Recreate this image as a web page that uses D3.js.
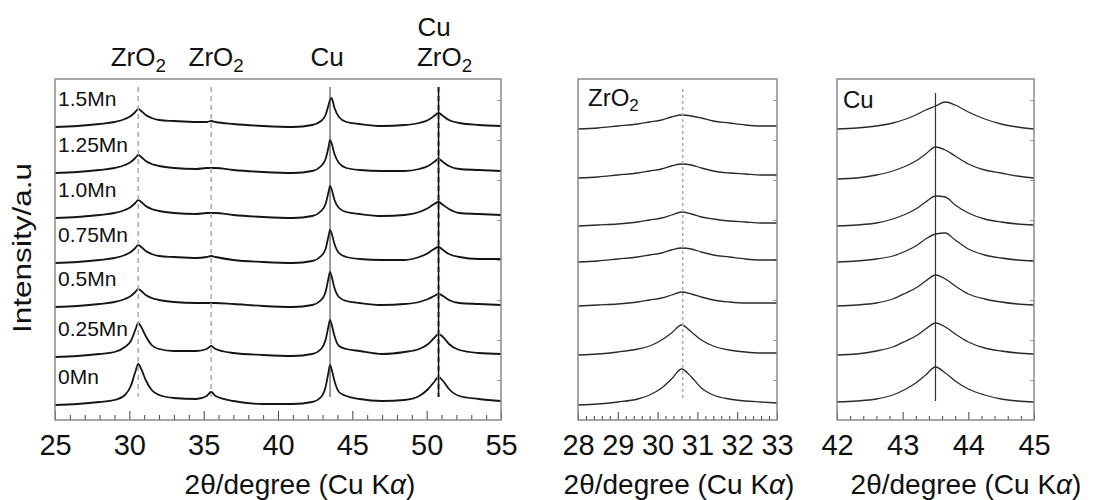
<!DOCTYPE html>
<html><head><meta charset="utf-8">
<script src="https://cdn.jsdelivr.net/npm/d3@7"></script>
<style>
body{margin:0;background:#fff;}
svg{display:block;font-family:Arial,"Liberation Sans",sans-serif;}
</style></head><body>
<svg id="chart" width="1099" height="500"></svg>
<script>
// ---------- DATA ----------
const samples = ["0Mn","0.25Mn","0.5Mn","0.75Mn","1.0Mn","1.25Mn","1.5Mn"];
// vertical stacking offsets (a.u.)
const offsetsMain = [15, 63, 113, 157, 202, 247, 293];
const offsetsZoom = [15, 65, 114, 158, 194, 242, 291];

// main panel 2θ grid (degrees)
const thetaMain = [25, 26.5, 28, 29, 29.7, 30.1, 30.4, 30.6, 30.8, 31.1, 31.5, 32, 33, 34.5, 35.2, 35.5, 35.8, 37, 39, 41,
  42.3, 42.9, 43.2, 43.4, 43.5, 43.6, 43.8, 44.1, 44.6, 45.5, 47, 48.5, 49.5, 50.1, 50.5, 50.8, 51.1, 51.5, 52.2, 53.5, 55];
const main0Mn   = [0,1,3,5,10,19,33,41,36,25,15,10,7,6,9,13,9,4,1,1, 3,8,18,33,40,36,24,13,9,6,4,5,9,16,23,28,24,16,9,6,4];
const main025Mn = [0,1,3,5,10,16,27,34,30,21,12,8,6,6,8,11,8,4,2,1, 3,8,17,31,37,33,21,11,8,6,3,5,8,13,19,23,20,13,7,4,3];
const main05Mn  = [0,1,3,5,8,11,15,18,16,12,9,7,5,4,4,4,4,3,1,0, 2,7,15,29,35,31,19,10,6,4,2,3,5,8,11,13,11,7,4,3,2];
const main075Mn = [0,1,3,5,8,11,15,18,16,12,9,7,6,5,6,7,6,3,1,0, 2,7,14,27,33,30,19,10,6,4,3,3,6,10,14,16,13,9,6,4,4];
const main10Mn  = [0,1,3,5,8,11,15,18,16,12,9,7,5,4,5,5,5,3,1,0, 2,7,14,26,32,29,18,10,6,4,2,3,6,10,14,16,13,9,5,4,3];
const main125Mn = [0,1,3,5,8,11,15,18,16,12,9,7,5,4,5,5,5,3,1,0, 2,7,14,26,33,30,19,10,5,3,2,2,4,7,11,14,11,7,4,3,2];
const main15Mn  = [0,1,3,5,8,11,15,18,16,12,9,7,6,5,5,6,5,3,1,0, 2,6,12,22,27,29,19,10,5,3,1,2,4,7,11,14,11,7,4,2,1];

// ZrO2 zoom panel
const thetaZr = [28, 28.5, 29, 29.5, 29.8, 30.1, 30.35, 30.6, 30.85, 31.1, 31.4, 31.8, 32.2, 32.6, 33];
const zr0Mn   = [0,1,3,6,10,17,26,36,28,17,10,6,4,3,2];
const zr025Mn = [0,1,3,6,9,15,22,30,23,15,9,5,3,2,2];
const zr05Mn  = [0,1,2,4,6,8,11,14,12,9,6,4,3,3,3];
const zr075Mn = [0,1,3,5,7,9,12,14,13,10,7,5,3,2,2];
const zr10Mn  = [0,1,2,4,6,8,11,14,12,9,7,5,4,3,3];
const zr125Mn = [0,1,3,5,7,9,12,14,13,10,7,5,4,3,3];
const zr15Mn  = [0,1,3,5,7,9,12,14,13,11,8,6,4,3,3];

// Cu zoom panel
const thetaCu = [42, 42.3, 42.6, 42.85, 43.05, 43.2, 43.35, 43.5, 43.65, 43.8, 44.0, 44.25, 44.5, 44.75, 45];
const cu0Mn   = [3,4,6,10,16,22,30,38,32,24,16,10,6,4,3];
const cu025Mn = [0,1,4,8,14,19,26,32,28,21,13,7,4,2,1];
const cu05Mn  = [0,1,3,7,13,18,25,31,27,20,12,7,4,2,1];
const cu075Mn = [0,1,3,6,11,16,23,28,29,22,13,7,4,2,1];
const cu10Mn  = [0,1,3,7,12,17,24,30,29,21,13,7,4,2,1];
const cu125Mn = [-1,0,3,7,12,17,24,31,28,22,14,8,5,2,0];
const cu15Mn  = [0,1,3,6,10,14,19,23,27,24,17,10,5,2,0];

// reference lines
const zro2Lines = [30.6, 35.5];
const cuLines = [43.5];
const cuZro2Lines = [50.8];
const zrZoomLine = [30.63];
const cuZoomLine = [43.5];

// ticks
const ticksMain = [25, 30, 35, 40, 45, 50, 55];
const ticksZr = [28, 29, 30, 31, 32, 33];
const ticksCu = [42, 43, 44, 45];

const xTitle = "2θ/degree (Cu K";
const yTitle = "Intensity/a.u";

// ---------- BUILD ----------
const mainSeries = [main0Mn, main025Mn, main05Mn, main075Mn, main10Mn, main125Mn, main15Mn];
const zrSeries = [zr0Mn, zr025Mn, zr05Mn, zr075Mn, zr10Mn, zr125Mn, zr15Mn];
const cuSeries = [cu0Mn, cu025Mn, cu05Mn, cu075Mn, cu10Mn, cu125Mn, cu15Mn];

const svg = d3.select("#chart");
const yTop = 79, yBot = 420;
const y = d3.scaleLinear().domain([0, 341]).range([yBot, yTop]);

const panels = [
  {x0: 55, x1: 501, dom: [25, 55], theta: thetaMain, series: mainSeries, offs: offsetsMain, majors: ticksMain, minorStep: 1, majLen: 9, minLen: 5, titleX: 300, sw: 1.8, col: "#151515"},
  {x0: 578, x1: 777, dom: [28, 33], theta: thetaZr, series: zrSeries, offs: offsetsZoom, majors: ticksZr, minorStep: 0.2, majLen: 8, minLen: 4, titleX: 679, sw: 1.3, col: "#2a2a2a"},
  {x0: 837, x1: 1034, dom: [42, 45], theta: thetaCu, series: cuSeries, offs: offsetsZoom, majors: ticksCu, minorStep: 0.2, majLen: 8, minLen: 4, titleX: 966, sw: 1.3, col: "#2a2a2a"}
];

const line = d3.line().curve(d3.curveMonotoneX);

panels.forEach((p, pi) => {
  const x = d3.scaleLinear().domain(p.dom).range([p.x0, p.x1]);
  p.x = x;
  const g = svg.append("g");

  const minors = d3.range(p.dom[0], p.dom[1] + 1e-9, p.minorStep).map(v => +v.toFixed(2))
    .filter(v => !p.majors.some(m => Math.abs(m - v) < 1e-6));
  g.append("g").attr("transform", `translate(0,${yBot})`)
    .call(d3.axisBottom(x).tickValues(minors).tickSize(-p.minLen).tickFormat(""))
    .call(a => a.select(".domain").remove())
    .call(a => a.selectAll("line").attr("stroke", "#444"));
  g.append("g").attr("transform", `translate(0,${yBot})`)
    .call(d3.axisBottom(x).tickValues(p.majors).tickSize(-p.majLen).tickPadding(14.5).tickFormat(d3.format("d")))
    .call(a => a.select(".domain").remove())
    .call(a => a.selectAll("line").attr("stroke", "#444"))
    .call(a => a.selectAll("text").attr("font-size", 29).attr("fill", "#111").attr("font-family", "Arial, 'Liberation Sans', sans-serif"));
  g.append("g").attr("transform", `translate(${p.x1},0)`)
    .call(d3.axisLeft(y).tickValues([40, 80, 120, 160, 200, 240, 280, 320]).tickSize(4).tickFormat(""))
    .call(a => a.select(".domain").remove())
    .call(a => a.selectAll("line").attr("stroke", "#999"));

  p.series.forEach((vals, i) => {
    const pts = p.theta.map((t, k) => [x(t), y(p.offs[i] + vals[k])]);
    g.append("path").attr("d", line(pts)).attr("fill", "none")
      .attr("stroke", p.col).attr("stroke-width", p.sw).attr("stroke-linejoin", "round");
  });

  g.append("rect").attr("x", p.x0).attr("y", yTop).attr("width", p.x1 - p.x0).attr("height", yBot - yTop)
    .attr("fill", "none").attr("stroke", "#8a8a8a").attr("stroke-width", 1.5);

  const tt = svg.append("text").attr("x", p.titleX).attr("y", 494).attr("text-anchor", "middle")
    .attr("font-size", 28).attr("fill", "#111");
  tt.append("tspan").text(xTitle);
  tt.append("tspan").attr("font-style", "italic").text("α");
  tt.append("tspan").text(")");
});

// ---------- reference lines ----------
const pm = panels[0], pz = panels[1], pc = panels[2];
svg.append("g").selectAll("line").data(zro2Lines).join("line")
  .attr("x1", d => pm.x(d)).attr("x2", d => pm.x(d)).attr("y1", y(333)).attr("y2", y(23))
  .attr("stroke", "#aaa").attr("stroke-width", 1.5).attr("stroke-dasharray", "5,4");
svg.append("g").selectAll("line").data(cuZro2Lines).join("line")
  .attr("x1", d => pm.x(d)).attr("x2", d => pm.x(d)).attr("y1", y(333)).attr("y2", y(23))
  .attr("stroke", "#aaa").attr("stroke-width", 3).attr("stroke-dasharray", "5,4");
svg.append("g").selectAll("line").data(cuZro2Lines).join("line")
  .attr("x1", d => pm.x(d)).attr("x2", d => pm.x(d)).attr("y1", y(333)).attr("y2", y(23))
  .attr("stroke", "#111").attr("stroke-width", 1.5);
svg.append("g").selectAll("line").data(cuLines).join("line")
  .attr("x1", d => pm.x(d)).attr("x2", d => pm.x(d)).attr("y1", y(333)).attr("y2", y(23))
  .attr("stroke", "#333").attr("stroke-width", 1);
svg.append("g").selectAll("line").data(zrZoomLine).join("line")
  .attr("x1", d => pz.x(d)).attr("x2", d => pz.x(d)).attr("y1", y(331)).attr("y2", y(22))
  .attr("stroke", "#aaa").attr("stroke-width", 1.5).attr("stroke-dasharray", "3,3");
svg.append("g").selectAll("line").data(cuZoomLine).join("line")
  .attr("x1", d => pc.x(d)).attr("x2", d => pc.x(d)).attr("y1", y(327)).attr("y2", y(19))
  .attr("stroke", "#333").attr("stroke-width", 1.2);

// ---------- sample labels ----------
svg.append("g").selectAll("text").data(samples).join("text")
  .attr("x", 58).attr("y", (d, i) => y(offsetsMain[i] + 21))
  .attr("font-size", 21).attr("fill", "#111").text(d => d);

// ---------- phase labels (top) ----------
function zro2(sel, xx, yy, fs) {
  const t = sel.append("text").attr("x", xx).attr("y", yy).attr("text-anchor", "middle").attr("font-size", fs).attr("fill", "#111");
  t.append("tspan").text("ZrO");
  t.append("tspan").attr("font-size", fs * 0.72).attr("dy", fs * 0.22).text("2");
  return t;
}
zro2(svg, pm.x(zro2Lines[0]), 66, 26);
zro2(svg, pm.x(zro2Lines[1]) + 5, 66, 26);
svg.append("text").attr("x", pm.x(cuLines[0]) - 3).attr("y", 66).attr("text-anchor", "middle")
  .attr("font-size", 26).attr("fill", "#111").text("Cu");
svg.append("text").attr("x", pm.x(cuZro2Lines[0]) - 21).attr("y", 36)
  .attr("font-size", 26).attr("fill", "#111").text("Cu");
zro2(svg, pm.x(cuZro2Lines[0]) + 6, 66, 26);

const zl = svg.append("text").attr("x", 588).attr("y", 106).attr("font-size", 24).attr("fill", "#111");
zl.append("tspan").text("ZrO");
zl.append("tspan").attr("font-size", 17).attr("dy", 5).text("2");
svg.append("text").attr("x", 843).attr("y", 108).attr("font-size", 24).attr("fill", "#111").text("Cu");

svg.append("text").attr("transform", "translate(31,248) rotate(-90)").attr("text-anchor", "middle")
  .attr("font-size", 25).attr("textLength", 170).attr("lengthAdjust", "spacingAndGlyphs")
  .attr("fill", "#111").text(yTitle);
</script>
</body></html>
